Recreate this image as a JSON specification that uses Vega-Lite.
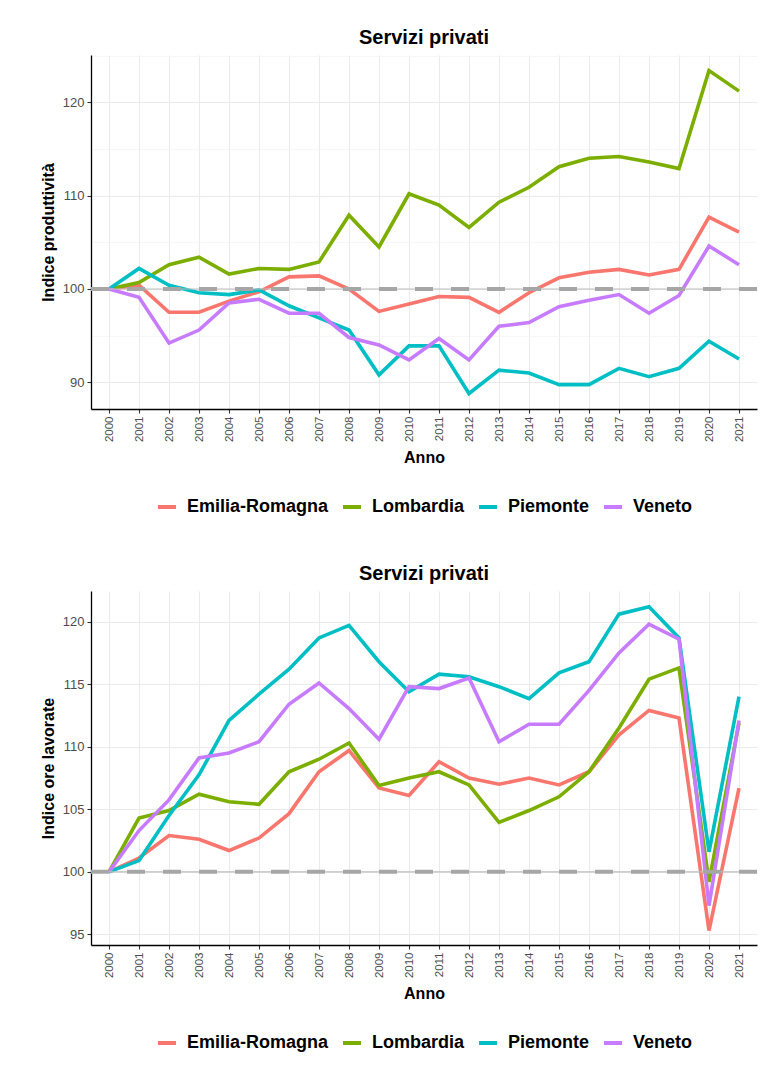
{
  "$schema": "https://vega.github.io/schema/vega-lite/v6.json",
  "background": "white",
  "padding": {"left": 40, "top": 28, "right": 10, "bottom": 5},
  "spacing": 48,
  "datasets": {
    "prod": [
      {"regione":"Emilia-Romagna","anno":"2000","valore":100},{"regione":"Emilia-Romagna","anno":"2001","valore":100.4},{"regione":"Emilia-Romagna","anno":"2002","valore":97.5},{"regione":"Emilia-Romagna","anno":"2003","valore":97.5},{"regione":"Emilia-Romagna","anno":"2004","valore":98.7},{"regione":"Emilia-Romagna","anno":"2005","valore":99.7},{"regione":"Emilia-Romagna","anno":"2006","valore":101.3},{"regione":"Emilia-Romagna","anno":"2007","valore":101.4},{"regione":"Emilia-Romagna","anno":"2008","valore":100.0},{"regione":"Emilia-Romagna","anno":"2009","valore":97.6},{"regione":"Emilia-Romagna","anno":"2010","valore":98.4},{"regione":"Emilia-Romagna","anno":"2011","valore":99.2},{"regione":"Emilia-Romagna","anno":"2012","valore":99.1},{"regione":"Emilia-Romagna","anno":"2013","valore":97.5},{"regione":"Emilia-Romagna","anno":"2014","valore":99.6},{"regione":"Emilia-Romagna","anno":"2015","valore":101.2},{"regione":"Emilia-Romagna","anno":"2016","valore":101.8},{"regione":"Emilia-Romagna","anno":"2017","valore":102.1},{"regione":"Emilia-Romagna","anno":"2018","valore":101.5},{"regione":"Emilia-Romagna","anno":"2019","valore":102.1},{"regione":"Emilia-Romagna","anno":"2020","valore":107.7},{"regione":"Emilia-Romagna","anno":"2021","valore":106.1},
      {"regione":"Lombardia","anno":"2000","valore":100},{"regione":"Lombardia","anno":"2001","valore":100.7},{"regione":"Lombardia","anno":"2002","valore":102.6},{"regione":"Lombardia","anno":"2003","valore":103.4},{"regione":"Lombardia","anno":"2004","valore":101.6},{"regione":"Lombardia","anno":"2005","valore":102.2},{"regione":"Lombardia","anno":"2006","valore":102.1},{"regione":"Lombardia","anno":"2007","valore":102.9},{"regione":"Lombardia","anno":"2008","valore":107.9},{"regione":"Lombardia","anno":"2009","valore":104.5},{"regione":"Lombardia","anno":"2010","valore":110.2},{"regione":"Lombardia","anno":"2011","valore":109.0},{"regione":"Lombardia","anno":"2012","valore":106.6},{"regione":"Lombardia","anno":"2013","valore":109.3},{"regione":"Lombardia","anno":"2014","valore":110.9},{"regione":"Lombardia","anno":"2015","valore":113.1},{"regione":"Lombardia","anno":"2016","valore":114.0},{"regione":"Lombardia","anno":"2017","valore":114.2},{"regione":"Lombardia","anno":"2018","valore":113.6},{"regione":"Lombardia","anno":"2019","valore":112.9},{"regione":"Lombardia","anno":"2020","valore":123.4},{"regione":"Lombardia","anno":"2021","valore":121.2},
      {"regione":"Piemonte","anno":"2000","valore":100},{"regione":"Piemonte","anno":"2001","valore":102.2},{"regione":"Piemonte","anno":"2002","valore":100.4},{"regione":"Piemonte","anno":"2003","valore":99.6},{"regione":"Piemonte","anno":"2004","valore":99.4},{"regione":"Piemonte","anno":"2005","valore":99.9},{"regione":"Piemonte","anno":"2006","valore":98.2},{"regione":"Piemonte","anno":"2007","valore":96.9},{"regione":"Piemonte","anno":"2008","valore":95.6},{"regione":"Piemonte","anno":"2009","valore":90.8},{"regione":"Piemonte","anno":"2010","valore":93.9},{"regione":"Piemonte","anno":"2011","valore":93.9},{"regione":"Piemonte","anno":"2012","valore":88.8},{"regione":"Piemonte","anno":"2013","valore":91.3},{"regione":"Piemonte","anno":"2014","valore":91.0},{"regione":"Piemonte","anno":"2015","valore":89.75},{"regione":"Piemonte","anno":"2016","valore":89.75},{"regione":"Piemonte","anno":"2017","valore":91.5},{"regione":"Piemonte","anno":"2018","valore":90.6},{"regione":"Piemonte","anno":"2019","valore":91.5},{"regione":"Piemonte","anno":"2020","valore":94.4},{"regione":"Piemonte","anno":"2021","valore":92.5},
      {"regione":"Veneto","anno":"2000","valore":100},{"regione":"Veneto","anno":"2001","valore":99.1},{"regione":"Veneto","anno":"2002","valore":94.2},{"regione":"Veneto","anno":"2003","valore":95.6},{"regione":"Veneto","anno":"2004","valore":98.5},{"regione":"Veneto","anno":"2005","valore":98.9},{"regione":"Veneto","anno":"2006","valore":97.4},{"regione":"Veneto","anno":"2007","valore":97.4},{"regione":"Veneto","anno":"2008","valore":94.8},{"regione":"Veneto","anno":"2009","valore":94.0},{"regione":"Veneto","anno":"2010","valore":92.4},{"regione":"Veneto","anno":"2011","valore":94.7},{"regione":"Veneto","anno":"2012","valore":92.4},{"regione":"Veneto","anno":"2013","valore":96.0},{"regione":"Veneto","anno":"2014","valore":96.4},{"regione":"Veneto","anno":"2015","valore":98.1},{"regione":"Veneto","anno":"2016","valore":98.8},{"regione":"Veneto","anno":"2017","valore":99.4},{"regione":"Veneto","anno":"2018","valore":97.4},{"regione":"Veneto","anno":"2019","valore":99.3},{"regione":"Veneto","anno":"2020","valore":104.6},{"regione":"Veneto","anno":"2021","valore":102.6}
    ],
    "ore": [
      {"regione":"Emilia-Romagna","anno":"2000","valore":100},{"regione":"Emilia-Romagna","anno":"2001","valore":101.1},{"regione":"Emilia-Romagna","anno":"2002","valore":102.9},{"regione":"Emilia-Romagna","anno":"2003","valore":102.6},{"regione":"Emilia-Romagna","anno":"2004","valore":101.7},{"regione":"Emilia-Romagna","anno":"2005","valore":102.7},{"regione":"Emilia-Romagna","anno":"2006","valore":104.65},{"regione":"Emilia-Romagna","anno":"2007","valore":108.0},{"regione":"Emilia-Romagna","anno":"2008","valore":109.7},{"regione":"Emilia-Romagna","anno":"2009","valore":106.7},{"regione":"Emilia-Romagna","anno":"2010","valore":106.1},{"regione":"Emilia-Romagna","anno":"2011","valore":108.8},{"regione":"Emilia-Romagna","anno":"2012","valore":107.5},{"regione":"Emilia-Romagna","anno":"2013","valore":107.0},{"regione":"Emilia-Romagna","anno":"2014","valore":107.5},{"regione":"Emilia-Romagna","anno":"2015","valore":106.95},{"regione":"Emilia-Romagna","anno":"2016","valore":108.0},{"regione":"Emilia-Romagna","anno":"2017","valore":110.95},{"regione":"Emilia-Romagna","anno":"2018","valore":112.9},{"regione":"Emilia-Romagna","anno":"2019","valore":112.3},{"regione":"Emilia-Romagna","anno":"2020","valore":95.3},{"regione":"Emilia-Romagna","anno":"2021","valore":106.7},
      {"regione":"Lombardia","anno":"2000","valore":100},{"regione":"Lombardia","anno":"2001","valore":104.3},{"regione":"Lombardia","anno":"2002","valore":104.9},{"regione":"Lombardia","anno":"2003","valore":106.2},{"regione":"Lombardia","anno":"2004","valore":105.6},{"regione":"Lombardia","anno":"2005","valore":105.4},{"regione":"Lombardia","anno":"2006","valore":108.0},{"regione":"Lombardia","anno":"2007","valore":109.0},{"regione":"Lombardia","anno":"2008","valore":110.3},{"regione":"Lombardia","anno":"2009","valore":106.9},{"regione":"Lombardia","anno":"2010","valore":107.5},{"regione":"Lombardia","anno":"2011","valore":108.0},{"regione":"Lombardia","anno":"2012","valore":106.95},{"regione":"Lombardia","anno":"2013","valore":103.95},{"regione":"Lombardia","anno":"2014","valore":104.9},{"regione":"Lombardia","anno":"2015","valore":106.0},{"regione":"Lombardia","anno":"2016","valore":108.0},{"regione":"Lombardia","anno":"2017","valore":111.5},{"regione":"Lombardia","anno":"2018","valore":115.4},{"regione":"Lombardia","anno":"2019","valore":116.3},{"regione":"Lombardia","anno":"2020","valore":99.2},{"regione":"Lombardia","anno":"2021","valore":111.9},
      {"regione":"Piemonte","anno":"2000","valore":100},{"regione":"Piemonte","anno":"2001","valore":100.9},{"regione":"Piemonte","anno":"2002","valore":104.5},{"regione":"Piemonte","anno":"2003","valore":107.75},{"regione":"Piemonte","anno":"2004","valore":112.1},{"regione":"Piemonte","anno":"2005","valore":114.2},{"regione":"Piemonte","anno":"2006","valore":116.2},{"regione":"Piemonte","anno":"2007","valore":118.7},{"regione":"Piemonte","anno":"2008","valore":119.7},{"regione":"Piemonte","anno":"2009","valore":116.8},{"regione":"Piemonte","anno":"2010","valore":114.4},{"regione":"Piemonte","anno":"2011","valore":115.8},{"regione":"Piemonte","anno":"2012","valore":115.6},{"regione":"Piemonte","anno":"2013","valore":114.8},{"regione":"Piemonte","anno":"2014","valore":113.85},{"regione":"Piemonte","anno":"2015","valore":115.9},{"regione":"Piemonte","anno":"2016","valore":116.8},{"regione":"Piemonte","anno":"2017","valore":120.6},{"regione":"Piemonte","anno":"2018","valore":121.2},{"regione":"Piemonte","anno":"2019","valore":118.7},{"regione":"Piemonte","anno":"2020","valore":101.6},{"regione":"Piemonte","anno":"2021","valore":114.0},
      {"regione":"Veneto","anno":"2000","valore":100},{"regione":"Veneto","anno":"2001","valore":103.3},{"regione":"Veneto","anno":"2002","valore":105.75},{"regione":"Veneto","anno":"2003","valore":109.1},{"regione":"Veneto","anno":"2004","valore":109.5},{"regione":"Veneto","anno":"2005","valore":110.4},{"regione":"Veneto","anno":"2006","valore":113.4},{"regione":"Veneto","anno":"2007","valore":115.1},{"regione":"Veneto","anno":"2008","valore":113.05},{"regione":"Veneto","anno":"2009","valore":110.6},{"regione":"Veneto","anno":"2010","valore":114.8},{"regione":"Veneto","anno":"2011","valore":114.65},{"regione":"Veneto","anno":"2012","valore":115.5},{"regione":"Veneto","anno":"2013","valore":110.4},{"regione":"Veneto","anno":"2014","valore":111.8},{"regione":"Veneto","anno":"2015","valore":111.8},{"regione":"Veneto","anno":"2016","valore":114.5},{"regione":"Veneto","anno":"2017","valore":117.5},{"regione":"Veneto","anno":"2018","valore":119.8},{"regione":"Veneto","anno":"2019","valore":118.6},{"regione":"Veneto","anno":"2020","valore":97.3},{"regione":"Veneto","anno":"2021","valore":112.1}
    ],
    "rif": [{"livello": 100}]
  },
  "vconcat": [
    {
      "width": 666,
      "height": 354,
      "title": {"text": "Servizi privati"},
      "layer": [
        {
          "data": {"name": "prod"},
          "mark": {"type": "line", "strokeWidth": 3.6},
          "encoding": {
            "x": {"field": "anno", "type": "ordinal", "scale": {"type": "point", "padding": 0.6}, "axis": {"title": "Anno", "labelAngle": 270, "grid": true}},
            "y": {"field": "valore", "type": "quantitative", "scale": {"domain": [87.14, 125.07], "nice": false, "zero": false},
              "axis": {"title": "Indice produttività", "values": [90, 95, 100, 105, 110, 115, 120, 125],
                "labelExpr": "datum.value % 10 === 0 ? datum.label : ''",
                "tickOpacity": {"condition": {"test": "datum.value % 10 !== 0", "value": 0}, "value": 1},
                "gridWidth": {"condition": {"test": "datum.value % 10 !== 0", "value": 0.6}, "value": 1.1},
                "gridColor": {"condition": {"test": "datum.value % 10 !== 0", "value": "#F2F2F2"}, "value": "#EBEBEB"}}},
            "color": {"field": "regione", "type": "nominal",
              "scale": {"domain": ["Emilia-Romagna", "Lombardia", "Piemonte", "Veneto"], "range": ["#F8766D", "#7CAE00", "#00BFC4", "#C77CFF"]},
              "legend": {"title": null}}
          }
        },
        {
          "data": {"name": "rif"},
          "mark": {"type": "rule", "color": "#BEBEBE", "strokeWidth": 1.2},
          "encoding": {"y": {"field": "livello", "type": "quantitative"}}
        },
        {
          "data": {"name": "rif"},
          "mark": {"type": "rule", "color": "#A6A6A6", "strokeWidth": 4, "strokeDash": [18, 18]},
          "encoding": {"y": {"field": "livello", "type": "quantitative"}}
        }
      ]
    },
    {
      "width": 666,
      "height": 354,
      "title": {"text": "Servizi privati"},
      "layer": [
        {
          "data": {"name": "ore"},
          "mark": {"type": "line", "strokeWidth": 3.6},
          "encoding": {
            "x": {"field": "anno", "type": "ordinal", "scale": {"type": "point", "padding": 0.6}, "axis": {"title": "Anno", "labelAngle": 270, "grid": true}},
            "y": {"field": "valore", "type": "quantitative", "scale": {"domain": [94.15, 122.45], "nice": false, "zero": false},
              "axis": {"title": "Indice ore lavorate", "values": [95, 97.5, 100, 102.5, 105, 107.5, 110, 112.5, 115, 117.5, 120, 122.5],
                "labelExpr": "datum.value % 5 === 0 ? datum.label : ''",
                "tickOpacity": {"condition": {"test": "datum.value % 5 !== 0", "value": 0}, "value": 1},
                "gridWidth": {"condition": {"test": "datum.value % 5 !== 0", "value": 0.6}, "value": 1.1},
                "gridColor": {"condition": {"test": "datum.value % 5 !== 0", "value": "#F2F2F2"}, "value": "#EBEBEB"}}},
            "color": {"field": "regione", "type": "nominal",
              "scale": {"domain": ["Emilia-Romagna", "Lombardia", "Piemonte", "Veneto"], "range": ["#F8766D", "#7CAE00", "#00BFC4", "#C77CFF"]},
              "legend": {"title": null}}
          }
        },
        {
          "data": {"name": "rif"},
          "mark": {"type": "rule", "color": "#BEBEBE", "strokeWidth": 1.2},
          "encoding": {"y": {"field": "livello", "type": "quantitative"}}
        },
        {
          "data": {"name": "rif"},
          "mark": {"type": "rule", "color": "#A6A6A6", "strokeWidth": 4, "strokeDash": [18, 18]},
          "encoding": {"y": {"field": "livello", "type": "quantitative"}}
        }
      ]
    }
  ],
  "resolve": {"legend": {"color": "independent"}},
  "config": {
    "font": "Liberation Sans",
    "view": {"stroke": null},
    "title": {"fontSize": 20, "fontWeight": "bold", "color": "#000000", "anchor": "middle", "offset": 7},
    "axis": {
      "domainColor": "#000000", "domainWidth": 1.3,
      "tickColor": "#333333", "tickSize": 4, "tickWidth": 1.1,
      "labelColor": "#4D4D4D", "labelFontSize": 13, "labelPadding": 3,
      "titleColor": "#000000", "titleFontWeight": "bold", "titleFontSize": 16,
      "gridColor": "#EBEBEB", "gridWidth": 1.1
    },
    "axisX": {"labelFontSize": 11.5, "titlePadding": 8},
    "axisY": {"titlePadding": 6},
    "legend": {
      "orient": "bottom", "direction": "horizontal",
      "symbolType": "stroke", "symbolStrokeWidth": 4, "symbolSize": 324,
      "labelFontSize": 18, "labelFontWeight": "bold", "labelColor": "#000000",
      "labelOffset": 9, "columnPadding": 6, "offset": 30,
      "layout": {"bottom": {"anchor": "middle"}}
    }
  }
}
